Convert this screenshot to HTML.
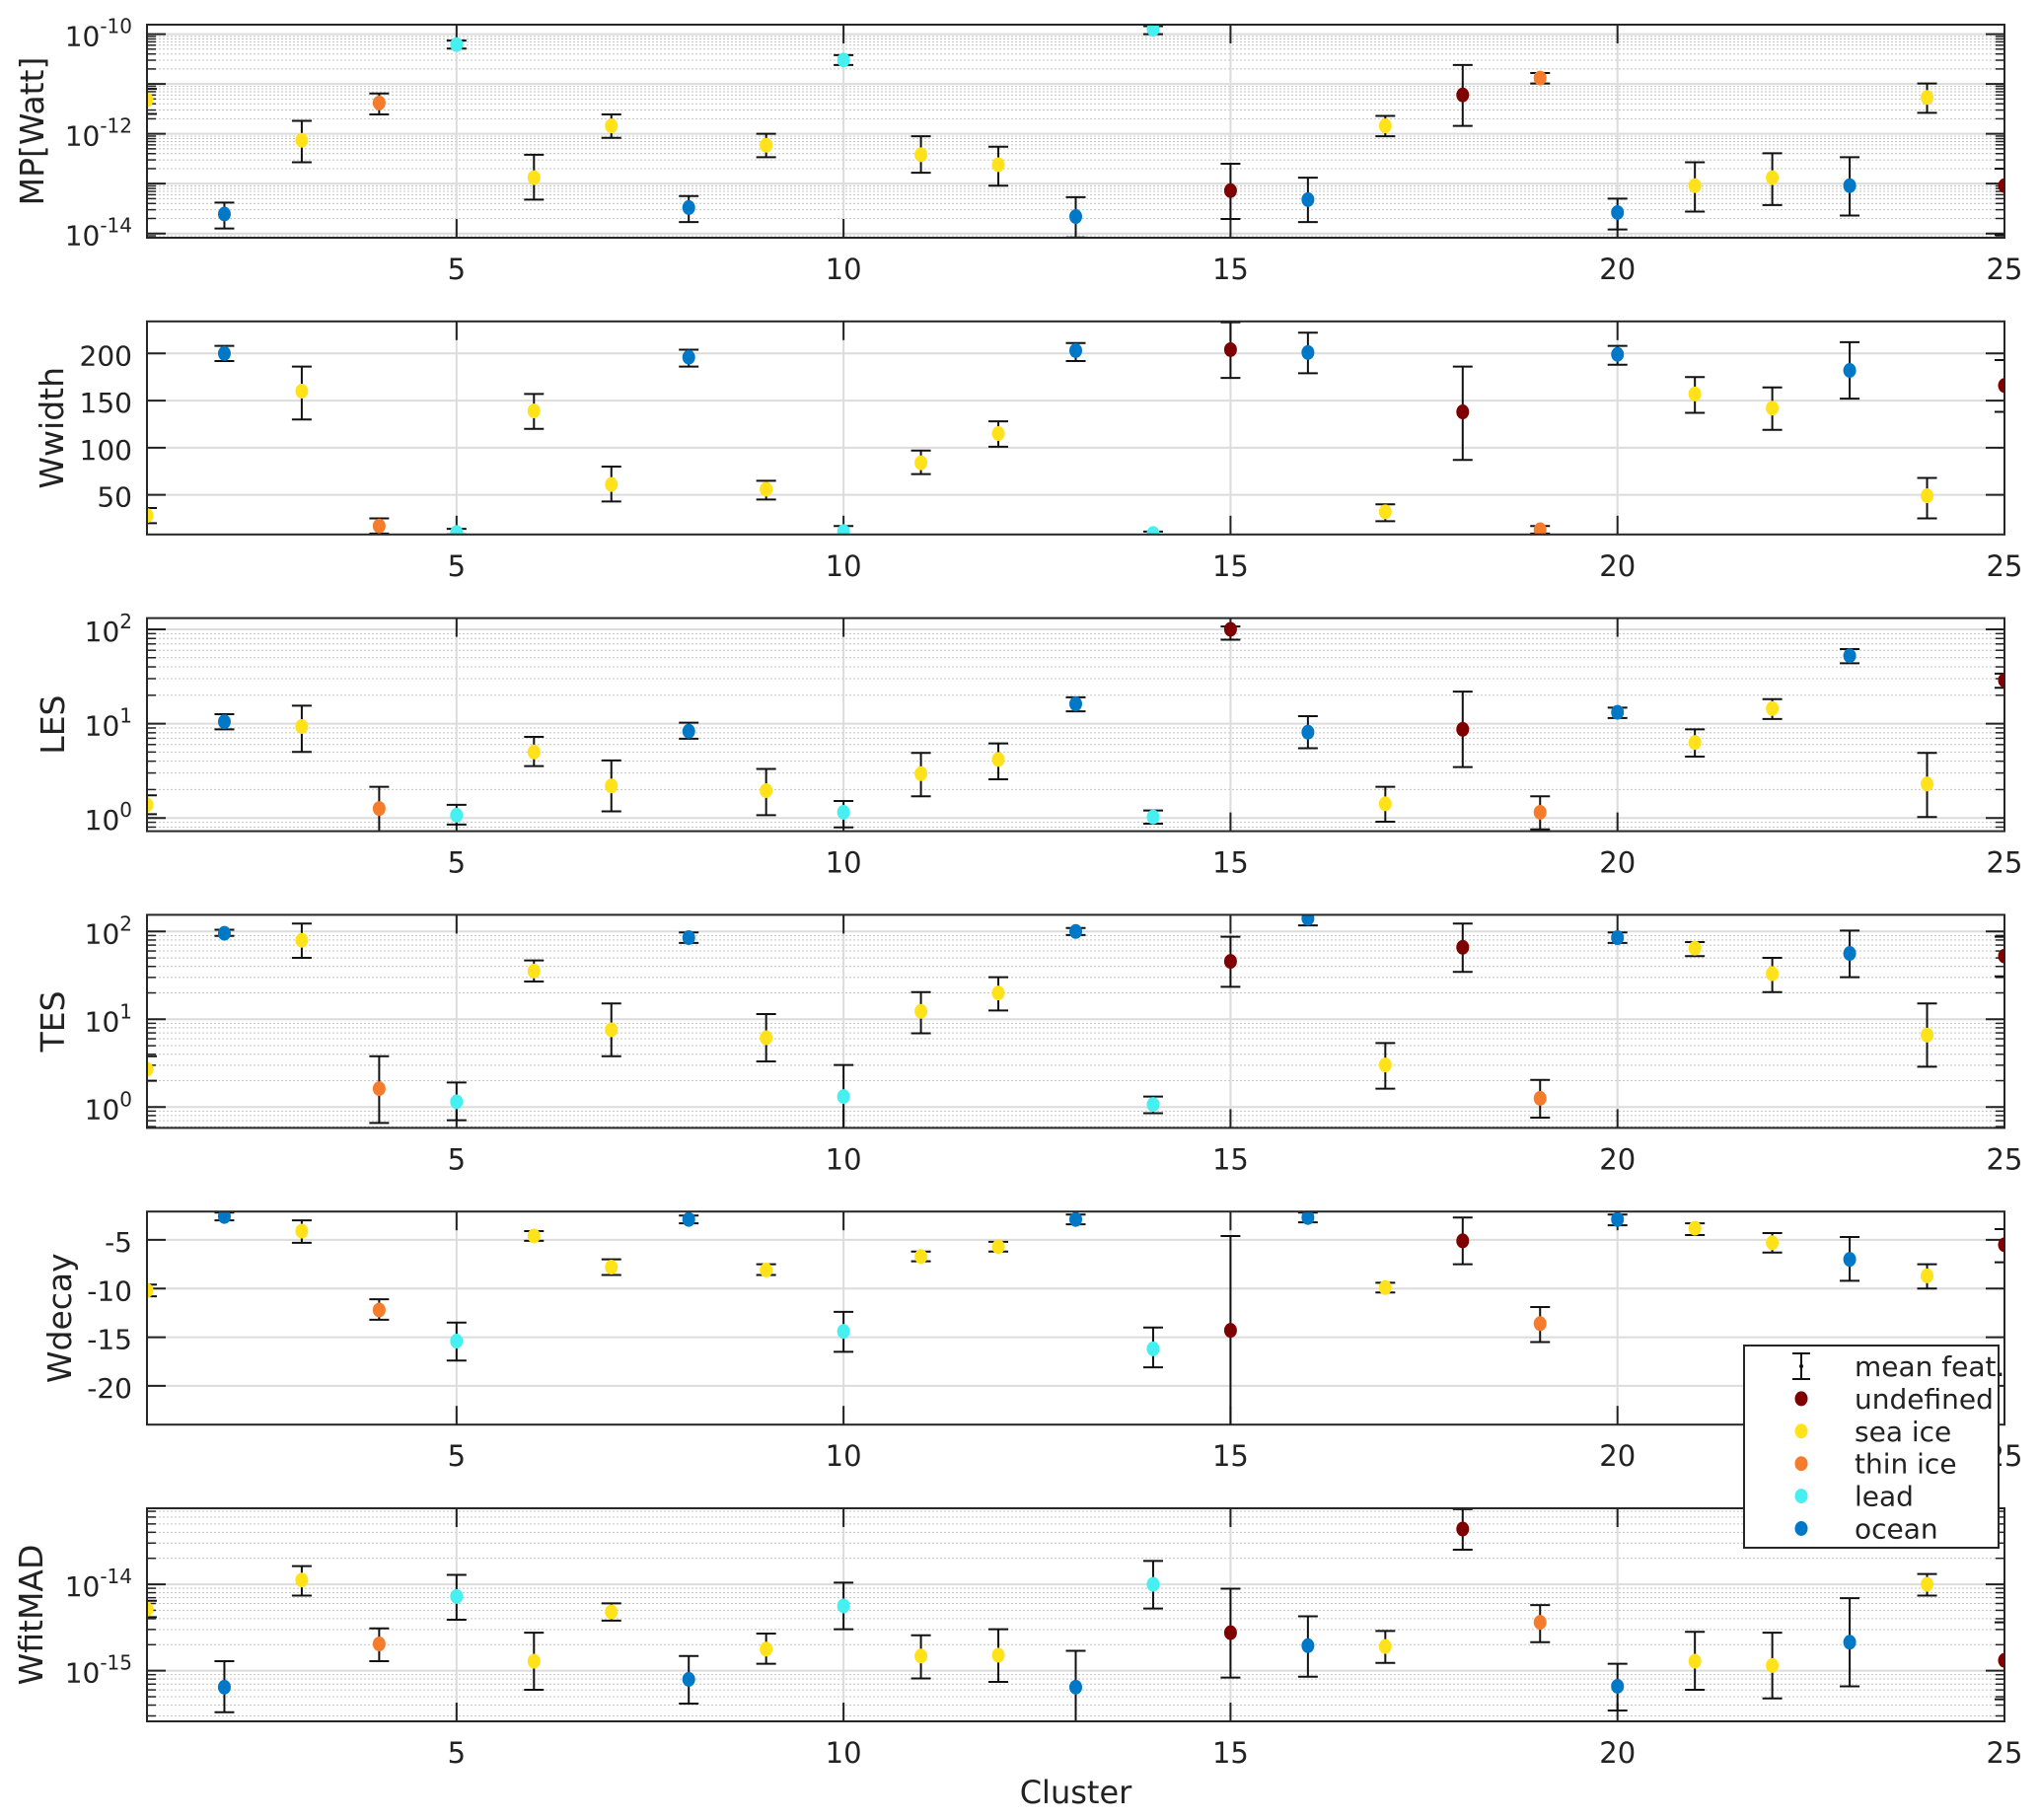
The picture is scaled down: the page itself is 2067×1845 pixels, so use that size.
<!DOCTYPE html>
<html><head><meta charset="utf-8"><style>
html,body{margin:0;padding:0;background:#fff}
svg{display:block;font-family:"DejaVu Sans","Liberation Sans",sans-serif}
</style></head><body>
<svg id="fig" width="2067" height="1845" viewBox="0 0 2067 1845"></svg>
<script>
const clusters=[1,2,3,4,5,6,7,8,9,10,11,12,13,14,15,16,17,18,19,20,21,22,23,24,25];
const classes=['sea','ocean','sea','thin','lead','sea','sea','ocean','sea','lead','sea','sea','ocean','lead','undef','ocean','sea','undef','thin','ocean','sea','sea','ocean','sea','undef'];
// log10 values for log panels
const mpVal=[-11.32,-13.61,-12.13,-11.38,-10.21,-12.88,-11.84,-13.48,-12.23,-10.52,-12.42,-12.62,-13.66,-9.9,-13.14,-13.32,-11.84,-11.22,-10.88,-13.58,-13.04,-12.88,-13.04,-11.27,-13.04];
const mpHi=[-11.1,-13.38,-11.74,-11.19,-10.13,-12.42,-11.61,-13.25,-12.0,-10.42,-12.05,-12.26,-13.27,-9.84,-12.6,-12.88,-11.64,-10.62,-10.78,-13.3,-12.57,-12.39,-12.47,-10.99,-12.7];
const mpLo=[-11.6,-13.9,-12.57,-11.61,-10.29,-13.32,-12.08,-13.77,-12.47,-10.62,-12.78,-13.04,-14.08,-10.0,-13.71,-13.77,-12.05,-11.84,-10.99,-13.92,-13.56,-13.43,-13.64,-11.58,-14.03];
const wwVal=[28,200,160,17,10,139,61,196,56,11,84,115,203,9,204,201,32,138,13,199,157,142,182,49,166];
const wwHi=[36,208,186,25,14,157,80,204,65,17,97,128,211,11,233,222,40,186,17,208,175,164,212,68,193];
const wwLo=[20,192,130,9,8,120,43,186,45,5,72,101,192,7,174,179,22,87,9,188,137,119,152,25,138];
const lesVal=[0.14,1.02,0.97,0.10,0.03,0.70,0.34,0.92,0.29,0.06,0.47,0.62,1.21,0.01,2.0,0.91,0.15,0.94,0.06,1.12,0.80,1.16,1.72,0.36,1.46];
const lesHi=[0.24,1.10,1.19,0.33,0.14,0.86,0.61,1.01,0.52,0.18,0.69,0.79,1.28,0.08,2.03,1.08,0.33,1.34,0.23,1.17,0.94,1.26,1.79,0.69,1.53];
const lesLo=[0.04,0.94,0.70,-0.15,-0.07,0.55,0.07,0.84,0.03,-0.10,0.23,0.41,1.13,-0.06,1.89,0.74,-0.04,0.54,-0.12,1.06,0.65,1.05,1.64,0.01,1.38];
const tesVal=[0.43,1.98,1.90,0.21,0.06,1.55,0.88,1.93,0.79,0.12,1.09,1.30,2.0,0.03,1.66,2.15,0.48,1.82,0.10,1.93,1.81,1.52,1.75,0.82,1.72];
const tesHi=[0.58,2.02,2.09,0.58,0.28,1.67,1.18,1.99,1.06,0.48,1.31,1.48,2.04,0.12,1.94,2.21,0.73,2.09,0.31,1.99,1.88,1.70,2.01,1.18,1.94];
const tesLo=[0.30,1.95,1.70,-0.18,-0.15,1.43,0.58,1.87,0.52,-0.24,0.84,1.10,1.96,-0.07,1.37,2.07,0.21,1.54,-0.12,1.87,1.72,1.31,1.48,0.46,1.49];
const wdVal=[-10.2,-2.6,-4.1,-12.2,-15.4,-4.6,-7.8,-2.9,-8.1,-14.4,-6.7,-5.7,-2.9,-16.2,-14.3,-2.7,-9.9,-5.1,-13.6,-2.9,-3.8,-5.3,-7.0,-8.7,-5.5];
const wdHi=[-9.6,-2.2,-3.0,-11.1,-13.5,-4.1,-7.0,-2.5,-7.5,-12.4,-6.2,-5.2,-2.4,-14.0,-4.6,-2.2,-9.4,-2.7,-11.9,-2.4,-3.3,-4.3,-4.7,-7.5,-3.9];
const wdLo=[-10.8,-3.0,-5.3,-13.2,-17.4,-5.1,-8.6,-3.3,-8.6,-16.5,-7.2,-6.2,-3.4,-18.1,-24.5,-3.2,-10.4,-7.5,-15.5,-3.5,-4.5,-6.3,-9.2,-10.0,-7.3];
const wfVal=[-14.29,-15.19,-13.95,-14.69,-14.14,-14.89,-14.32,-15.10,-14.75,-14.25,-14.83,-14.82,-15.19,-14.00,-14.56,-14.71,-14.72,-13.36,-14.44,-15.18,-14.89,-14.94,-14.67,-14.00,-14.88];
const wfHi=[-14.19,-14.89,-13.79,-14.51,-13.89,-14.56,-14.22,-14.83,-14.57,-13.98,-14.59,-14.52,-14.77,-13.73,-14.05,-14.37,-14.54,-13.13,-14.24,-14.92,-14.55,-14.56,-14.16,-13.88,-14.44];
const wfLo=[-14.38,-15.48,-14.13,-14.89,-14.41,-15.22,-14.42,-15.38,-14.92,-14.52,-15.09,-15.13,-15.61,-14.28,-15.08,-15.07,-14.91,-13.60,-14.67,-15.46,-15.22,-15.32,-15.18,-14.13,-15.33];
const xTicks=[5,10,15,20,25];
const legendLabels=['undefined','sea ice','thin ice','lead','ocean'];
const colors={undef:'#7e0000',sea:'#ffe21a',thin:'#f47c2c',lead:'#46f0f0',ocean:'#0078c8'};
const legendKeys=['undef','sea','thin','lead','ocean'];

const NS='http://www.w3.org/2000/svg';
const svg=document.getElementById('fig');
function el(tag,attrs,parent){const e=document.createElementNS(NS,tag);for(const k in attrs)e.setAttribute(k,attrs[k]);(parent||svg).appendChild(e);return e;}
const X0=149,X1=2032;
const xs=v=>X0+(v-1)/(25-1)*(X1-X0);
const panels=[
 {name:'mp',title:'MP[Watt]',tx:44,log:true,min:-14.085,max:-9.81,ticks:[-14,-12,-10],val:mpVal,hi:mpHi,lo:mpLo},
 {name:'wwidth',title:'Wwidth',tx:64,log:false,min:8,max:234,ticks:[50,100,150,200],val:wwVal,hi:wwHi,lo:wwLo},
 {name:'les',title:'LES',tx:65,log:true,min:-0.14,max:2.119,ticks:[0,1,2],val:lesVal,hi:lesHi,lo:lesLo},
 {name:'tes',title:'TES',tx:65,log:true,min:-0.237,max:2.19,ticks:[0,1,2],val:tesVal,hi:tesHi,lo:tesLo},
 {name:'wdecay',title:'Wdecay',tx:72,log:false,min:-23.98,max:-2.09,ticks:[-20,-15,-10,-5],val:wdVal,hi:wdHi,lo:wdLo},
 {name:'wfitmad',title:'WfitMAD',tx:43,log:true,min:-15.586,max:-13.12,ticks:[-15,-14],val:wfVal,hi:wfHi,lo:wfLo}
];
panels.forEach((p,i)=>{
 const T=25+i*300.8,B=T+216;
 const ys=v=>B-(v-p.min)/(p.max-p.min)*(B-T);
 const g=el('g',{});
 
 
 const cid='clip'+i;
 const cp=el('clipPath',{id:cid},g);el('rect',{x:X0,y:T,width:X1-X0,height:B-T},cp);
 if(p.log){
  for(let d=Math.floor(p.min);d<=Math.ceil(p.max);d++){
   for(let m=1;m<10;m++){const v=d+Math.log10(m);if(v<p.min||v>p.max)continue;
    const y=ys(v);
    if(m==1){el('line',{x1:X0,x2:X1,y1:y,y2:y,stroke:'#dcdcdc','stroke-width':2},g);
      el('line',{x1:X0,x2:X0+19,y1:y,y2:y,stroke:'#222','stroke-width':2},g);el('line',{x1:X1-19,x2:X1,y1:y,y2:y,stroke:'#222','stroke-width':2},g);}
    else{el('line',{x1:X0,x2:X1,y1:y,y2:y,stroke:'#c4c4c4','stroke-width':1,'stroke-dasharray':'2,2'},g);
      el('line',{x1:X0,x2:X0+9,y1:y,y2:y,stroke:'#222','stroke-width':1.5},g);el('line',{x1:X1-9,x2:X1,y1:y,y2:y,stroke:'#222','stroke-width':1.5},g);}
   }}
 } else {
  p.ticks.forEach(t=>{const y=ys(t);el('line',{x1:X0,x2:X1,y1:y,y2:y,stroke:'#dcdcdc','stroke-width':2},g);
   el('line',{x1:X0,x2:X0+19,y1:y,y2:y,stroke:'#222','stroke-width':2},g);el('line',{x1:X1-19,x2:X1,y1:y,y2:y,stroke:'#222','stroke-width':2},g);});
 }
 xTicks.forEach(t=>{const x=xs(t);if(t<25)el('line',{x1:x,x2:x,y1:T,y2:B,stroke:'#dcdcdc','stroke-width':2},g);
  el('line',{x1:x,x2:x,y1:T,y2:T+19,stroke:'#222','stroke-width':2},g);el('line',{x1:x,x2:x,y1:B-19,y2:B,stroke:'#222','stroke-width':2},g);
  const tl=el('text',{x:x,y:B+42,'text-anchor':'middle','font-size':29,fill:'#222'},g);tl.textContent=t;
  
  
 });
 p.ticks.forEach(t=>{const y=ys(t);
  const tl=el('text',{x:134,y:y+12,'text-anchor':'end','font-size':28,fill:'#222'},g);
  
  
  if(p.log){
   const a=el('tspan',{},tl);a.textContent='10';const b=el('tspan',{dy:-13,'font-size':20},tl);b.textContent=String(t);
  } else tl.textContent=t;
 });
 const mg=el('g',{'clip-path':'url(#'+cid+')'},g);
 clusters.forEach((c,k)=>{const x=xs(c);
  const e=el('path',{d:`M${x-10},${ys(p.hi[k])}H${x+10}M${x},${ys(p.hi[k])}V${ys(p.lo[k])}M${x-10},${ys(p.lo[k])}H${x+10}`,stroke:'#111','stroke-width':2,fill:'none'},mg);
  
  
  const d=el('ellipse',{cx:x,cy:ys(p.val[k]),rx:6.5,ry:7.5,fill:colors[classes[k]]},mg);
  
  
 });
 el('rect',{x:X0,y:T,width:X1-X0,height:B-T,fill:'none',stroke:'#262626','stroke-width':2},g);
 const yt=el('text',{transform:`translate(${p.tx},${(T+B)/2}) rotate(-90)`,'text-anchor':'middle','font-size':33,fill:'#222'},g);
 yt.textContent=p.title;
 
 
});
const xl=el('text',{x:(X0+X1)/2,y:1828,'text-anchor':'middle','font-size':32,fill:'#222'});
xl.textContent='Cluster';


const lg=el('g',{});


el('rect',{x:1768,y:1364,width:258,height:205,fill:'#fff',stroke:'#262626','stroke-width':2},lg);
const lx=1826,tx=1880;
el('path',{d:`M${lx-9},1372H${lx+9}M${lx},1372V1398M${lx-9},1398H${lx+9}`,stroke:'#111','stroke-width':2,fill:'none'},lg);
el('circle',{cx:lx,cy:1385,r:2,fill:'#111'},lg);
const t0=el('text',{x:tx,y:1395,'font-size':28,fill:'#222'},lg);t0.textContent='mean feat.';


legendLabels.forEach((lab,i)=>{const y=1385+(i+1)*32.9;
 const c=el('ellipse',{cx:lx,cy:y,rx:6.5,ry:7.5,fill:colors[legendKeys[i]]},lg);
 
 
 const t=el('text',{x:tx,y:y+10,'font-size':28,fill:'#222'},lg);t.textContent=lab;
 
 
});
</script>
</body></html>
